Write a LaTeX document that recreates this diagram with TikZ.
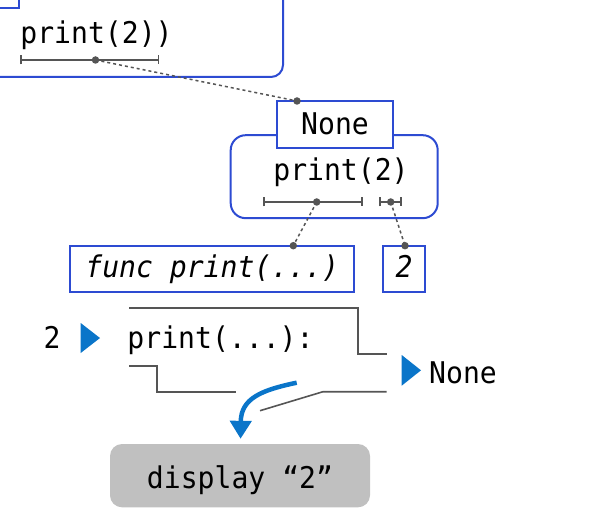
\documentclass[tikz,border=0pt]{standalone}
\usepackage{fontspec}
\usetikzlibrary{arrows.meta}
\newfontfamily\codefont[FakeStretch=0.94, ItalicFont={DejaVu Sans Mono Oblique}]{DejaVu Sans Mono}
\definecolor{frameblue}{RGB}{45,75,210}
\definecolor{flowblue}{RGB}{10,117,201}
\definecolor{linegray}{RGB}{85,85,85}
\definecolor{boxgray}{RGB}{192,192,192}

\tikzset{
	valbox/.style={draw=frameblue, line width=2bp, fill=white, inner sep=0pt},
	exprbox/.style={draw=frameblue, line width=2bp, rounded corners=15bp, inner sep=0pt},
	span/.style={draw=linegray, line width=1.5bp, {Bar[width=9bp]}-{Bar[width=9bp]}},
	dot/.style={circle, fill=linegray, inner sep=0pt, minimum size=7.5bp},
	link/.style={draw=linegray, line width=1.5bp, dash pattern=on 3bp off 3bp},
	frameline/.style={draw=linegray, line width=1.6bp},
	txt/.style={inner sep=0pt, anchor=base}
}

\begin{document}
\begin{tikzpicture}[x=1bp, y=-1bp, font=\codefont\fontsize{30}{34}\selectfont]
		\useasboundingbox (0,0) rectangle (594,515);
		\clip (0,0) rectangle (594,515);
		% outer call, cut by the top edge
		\draw[frameblue, line width=2bp, rounded corners=12bp] (-40,-80) rectangle (283,77);
		\draw[frameblue, line width=2bp, fill=white] (-40,-60) rectangle (19,8);
		\node[txt] (outerexpr) at (96.5,44) {print(2))};
		\draw[span] (20,60) -- (159,60);
		\node[dot] (outerdot) at (95.5,60) {};
		% inner call
		\node[exprbox, minimum width=207bp, minimum height=83bp] (callbox) at (334.2,176.7) {};
		\node[valbox, minimum width=116.6bp, text height=34bp, text depth=12.7bp, anchor=base] (nonebox) at (335,135) {None};
		\node[dot] (nonedot) at (297,101) {};
		\node[txt] (callexpr) at (341,181) {print(2)};
		\draw[span] (263,202) -- (362.7,202);
		\draw[span] (379,202) -- (401.7,202);
		\node[dot] (funcdot) at (316.7,202) {};
		\node[dot] (argdot) at (390.7,202) {};
		% values
		\node[valbox, minimum width=284.3bp, text height=31.3bp, text depth=14.7bp, anchor=base] (funcbox) at (212.2,277) {\itshape func print(...)};
		\node[valbox, minimum width=41.7bp, text height=31.3bp, text depth=14.7bp, anchor=base] (argbox) at (404.2,277) {\itshape 2};
		\node[dot] (funcboxdot) at (293.3,245.7) {};
		\node[dot] (argboxdot) at (405,245.7) {};
		\draw[link] (outerdot.center) -- (nonedot.center);
		\draw[link] (funcdot.center) -- (funcboxdot.center);
		\draw[link] (argdot.center) -- (argboxdot.center);
		% the function print
		\node[txt] (argin) at (52,348) {2};
		\fill[flowblue] (80.7,323) -- (100,338) -- (80.7,353) -- cycle;
		\node[txt] (funcsig) at (220.5,348) {print(...):};
		\draw[frameline] (129,307.7) -- (358,307.7) -- (358,354) -- (386.7,354);
		\draw[frameline] (129,365.7) -- (157,365.7) -- (157,391.7) -- (236,391.7);
		\draw[frameline] (260,410.7) -- (323,391.7) -- (386.7,391.7);
		\fill[flowblue] (401.7,355) -- (421,370.3) -- (401.7,385.7) -- cycle;
		\node[txt] (retval) at (463,383) {None};
		% side effect
		\node[fill=boxgray, rounded corners=12bp, inner sep=0pt, minimum width=260bp, text height=44bp, text depth=19.3bp, anchor=base] (displaybox) at (240,488) {display “2”};
		\coordinate (effect) at (296.7,382.7);
		\draw[flowblue, line width=4.5bp, -{Triangle[width=21bp, length=18bp]}, shorten >=5bp] (effect) .. controls (262,390) and (241,398) .. (displaybox.north -| 240.5,0);
		\end{tikzpicture}
\end{document}
